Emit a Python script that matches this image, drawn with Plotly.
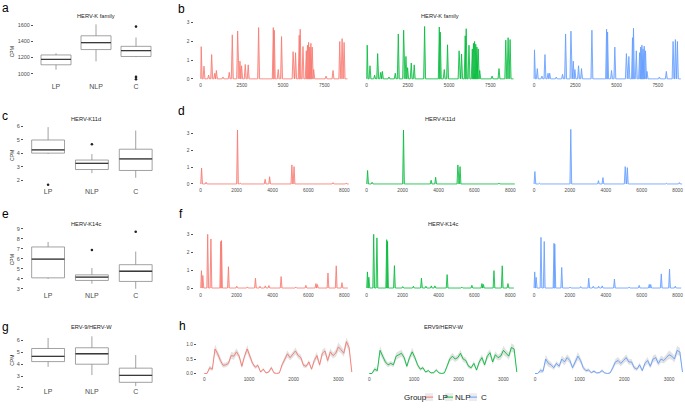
import plotly.graph_objects as go

W, H = 685, 408

# ---------------- data ----------------
groups = ["LP", "NLP", "C"]
colours = ["#F8766D", "#00BA38", "#619CFF"]
fills = ["rgba(248,118,109,0.35)", "rgba(0,186,56,0.35)", "rgba(97,156,255,0.35)"]

# box plot summaries (CPM), order LP, NLP, C
a_q1 = [1110, 1299, 1213]
a_med = [1176, 1384, 1286]
a_q3 = [1232, 1470, 1339]
a_lo = [1049, 1152, 1205]
a_hi = [1253, 1612, 1449]
a_out_x = [2, 2, 2]
a_out_y = [1584, 960, 930]

c_q1 = [4.01, 2.80, 2.73]
c_med = [4.25, 3.26, 3.58]
c_q3 = [4.98, 3.50, 4.30]
c_lo = [3.95, 2.53, 2.19]
c_hi = [5.93, 3.94, 5.68]
c_out_x = [0, 1]
c_out_y = [1.68, 4.67]

e_q1 = [4.09, 3.83, 3.73]
e_med = [5.97, 4.16, 4.75]
e_q3 = [7.19, 4.39, 5.41]
e_lo = [3.99, 3.50, 3.00]
e_hi = [7.69, 5.08, 6.73]
e_out_x = [1, 2]
e_out_y = [6.89, 8.71]

g_q1 = [4.21, 3.99, 2.47]
g_med = [4.65, 4.87, 3.05]
g_q3 = [5.31, 5.37, 3.66]
g_lo = [3.77, 3.08, 2.15]
g_hi = [6.19, 6.33, 4.76]
g_out_x = []
g_out_y = []

# coverage peaks: HERV-K family
b_pos = [30, 200, 480, 665, 850, 950, 1350, 1730, 1915, 2240, 2380, 2480, 2700, 2880,
         3510, 4400, 4460, 4700, 4900, 5600, 5750, 5970, 6030, 6200, 6400, 6470, 6540,
         6610, 6680, 6760, 6850, 7600, 8020, 8430, 8570, 8690]
b_lp = [1.72, 0.68, 0.2, 1.3, 0.3, 0.45, 0.1, 0.35, 2.35, 2.56, 0.95, 0.7, 0.77, 0.75,
        2.74, 2.74, 2.6, 0.5, 2.26, 1.45, 1.4, 2.33, 2.65, 1.73, 1.5, 1.8, 1.95,
        1.7, 1.9, 1.7, 0.5, 0.15, 0.45, 2.0, 2.15, 1.95]
b_nlp = [1.8, 0.7, 0.2, 1.35, 0.35, 0.4, 0.1, 0.3, 2.4, 2.6, 1.2, 0.6, 0.85, 0.75,
         2.8, 2.77, 2.5, 0.5, 1.82, 1.5, 1.33, 2.3, 2.68, 1.8, 1.6, 1.9, 2.0,
         1.85, 1.7, 1.6, 0.45, 0.15, 0.55, 2.07, 2.2, 2.1]
b_c = [1.55, 0.55, 0.15, 1.3, 0.3, 0.3, 0.1, 0.25, 2.4, 2.55, 0.95, 0.5, 0.7, 0.55,
       2.6, 2.65, 2.5, 0.45, 1.7, 1.35, 1.2, 2.2, 2.7, 1.5, 1.4, 1.7, 1.8,
       1.6, 1.75, 1.5, 0.4, 0.1, 0.4, 2.0, 2.1, 2.0]
b_end = 8900

# HERV-K11d
d_pos = [50, 300, 2050, 2200, 3590, 3840, 5080, 5200, 7370, 8100]
d_lp = [0.94, 0.1, 3.2, 0.05, 0.28, 0.43, 1.13, 1.03, 0.08, 0.05]
d_nlp = [0.8, 0.1, 3.2, 0.03, 0.22, 0.4, 1.13, 1.03, 0.05, 0.03]
d_c = [0.74, 0.05, 3.24, 0.03, 0.2, 0.38, 1.03, 0.97, 0.04, 0.08]
d_end = 8250

# HERV-K14c
f_pos = [40, 120, 390, 570, 1115, 1160, 1545, 2010, 2600, 3050, 3300, 3600, 3800,
         4480, 5300, 5860, 6420, 6500, 7090, 7550, 7870]
f_lp = [0.97, 0.7, 3.0, 2.74, 2.6, 2.65, 1.19, 0.1, 0.06, 0.55, 0.1, 0.12, 0.14,
        0.64, 0.05, 0.15, 0.25, 0.2, 0.84, 1.24, 0.3]
f_nlp = [0.9, 0.6, 3.0, 2.8, 2.7, 2.6, 1.25, 0.08, 0.1, 0.55, 0.1, 0.12, 0.12,
         0.75, 0.05, 0.15, 0.25, 0.2, 0.97, 1.24, 0.25]
f_c = [0.9, 0.6, 2.83, 2.6, 2.5, 2.45, 1.15, 0.05, 0.08, 0.55, 0.1, 0.1, 0.12,
       0.5, 0.05, 0.15, 0.2, 0.2, 0.79, 1.06, 0.1]
f_end = 8200

# ERV9/HERV-W: smoothed coverage every 60 nt
h_pos = list(range(0, 3301, 60))
h_lp = [0, 0, 0.2, 0.15, 0.85, 0.68, 0.45, 0.28, 0.3, 0.35,
        0.62, 0.6, 0.75, 0.6, 0.25, 0.6, 0.85, 0.6, 0.35, 0.22,
        0.28, 0.05, 0.15, 0.02, 0.05, 0.2, 0.02, 0, 0.02, 0.3,
        0.5, 0.68, 0.55, 0.65, 0.78, 0.62, 0.55, 0.28, 0.25, 0.4,
        0.15, 0.45, 0.62, 0.3, 0.7, 0.78, 0.45, 0.75, 0.62, 0.7,
        0.92, 0.82, 0.7, 1.1, 0.9, 0.05]
h_nlp = [0, 0, 0.15, 0.1, 0.8, 0.6, 0.4, 0.3, 0.35, 0.3,
         0.6, 0.65, 0.7, 0.55, 0.25, 0.55, 0.75, 0.55, 0.3, 0.15,
         0.2, 0.05, 0.1, 0.02, 0.03, 0.12, 0.02, 0, 0.02, 0.25,
         0.5, 0.6, 0.5, 0.55, 0.7, 0.5, 0.45, 0.25, 0.2, 0.35,
         0.12, 0.4, 0.55, 0.3, 0.6, 0.72, 0.4, 0.65, 0.55, 0.6,
         0.8, 0.7, 0.6, 0.9, 0.85, 0.05]
h_c = [0, 0, 0.1, 0.08, 0.5, 0.35, 0.3, 0.2, 0.35, 0.25,
       0.5, 0.4, 0.55, 0.45, 0.2, 0.4, 0.6, 0.45, 0.2, 0.1,
       0.12, 0.03, 0.08, 0.02, 0.03, 0.1, 0.02, 0, 0.02, 0.2,
       0.4, 0.45, 0.35, 0.45, 0.55, 0.4, 0.4, 0.2, 0.15, 0.3,
       0.1, 0.35, 0.45, 0.25, 0.5, 0.55, 0.35, 0.5, 0.45, 0.55,
       0.65, 0.6, 0.5, 0.8, 0.75, 0.05]
h_spread = [0.02, 0.02, 0.08, 0.06, 0.15, 0.12, 0.1, 0.08, 0.08, 0.08,
            0.12, 0.12, 0.12, 0.1, 0.08, 0.1, 0.14, 0.1, 0.08, 0.06,
            0.06, 0.03, 0.05, 0.02, 0.03, 0.06, 0.02, 0.01, 0.02, 0.08,
            0.1, 0.12, 0.1, 0.1, 0.12, 0.1, 0.1, 0.08, 0.06, 0.08,
            0.05, 0.1, 0.12, 0.08, 0.12, 0.12, 0.1, 0.12, 0.1, 0.12,
            0.15, 0.12, 0.12, 0.15, 0.14, 0.03]

# ---------------- layout helpers ----------------
FONT = "Liberation Sans, Arial, sans-serif"
TICK = "#4d4d4d"

fig = go.Figure()
n_axes = [0]


def new_axes(xpx, ypx, xrange, yrange, xticks=None, yticks=None, show_y=True,
             tick_size=5, xtick_size=None, xstandoff=0):
    """ Create an x/y axis pair placed by pixel box (left, right) / (top, bottom) """
    n_axes[0] += 1
    n = "" if n_axes[0] == 1 else str(n_axes[0])
    xa = dict(domain=[xpx[0] / W, xpx[1] / W], range=xrange, anchor="y" + n,
              showgrid=False, zeroline=False, showline=False, ticklabelstandoff=xstandoff,
              tickfont=dict(size=xtick_size or tick_size, color=TICK, family=FONT))
    if xticks is not None:
        xa.update(tickmode="array", tickvals=xticks[0], ticktext=xticks[1])
    ya = dict(domain=[1 - ypx[1] / H, 1 - ypx[0] / H], range=yrange, anchor="x" + n,
              showgrid=False, zeroline=False, showline=False,
              tickfont=dict(size=tick_size, color=TICK, family=FONT))
    if yticks is not None and show_y:
        ya.update(tickmode="array", tickvals=yticks[0], ticktext=yticks[1],
                  ticks="outside", ticklen=2, tickwidth=0.6, tickcolor="#555")
    else:
        ya.update(showticklabels=False)
    fig.update_layout(**{"xaxis" + n: xa, "yaxis" + n: ya})
    return "x" + n, "y" + n


def text_at(txt, x, y, size, color="#1a1a1a", xanchor="center", angle=0):
    fig.add_annotation(text=txt, x=x / W, y=1 - y / H, xref="paper", yref="paper",
                       xanchor=xanchor, yanchor="middle", textangle=angle,
                       showarrow=False, font=dict(size=size, color=color, family=FONT))


def box_panel(xpx, ypx, yrange, yticks, q1, med, q3, lo, hi, out_x, out_y):
    xa, ya = new_axes(xpx, ypx, [-0.55, 2.6], yrange,
                      xticks=([0, 1, 2], groups), yticks=yticks, tick_size=5.5,
                      xtick_size=7, xstandoff=-2)
    fig.add_trace(go.Box(x=[0, 1, 2], q1=q1, median=med, q3=q3, lowerfence=lo,
                         upperfence=hi, width=0.75, whiskerwidth=0, boxpoints=False,
                         orientation="v", fillcolor="white",
                         line=dict(color="#8a8a8a", width=0.8),
                         xaxis=xa, yaxis=ya, showlegend=False, hoverinfo="skip"))
    mx, my = [], []
    for i, m in enumerate(med):
        mx += [i - 0.375, i + 0.375, None]
        my += [m, m, None]
    fig.add_trace(go.Scatter(x=mx, y=my, mode="lines", line=dict(color="#3a3a3a", width=1.3),
                             xaxis=xa, yaxis=ya, showlegend=False, hoverinfo="skip"))
    fig.add_trace(go.Scatter(x=out_x, y=out_y, mode="markers",
                             marker=dict(color="#222", size=2.6),
                             xaxis=xa, yaxis=ya, showlegend=False, hoverinfo="skip"))
    text_at("CPM", 12, (ypx[0] + ypx[1]) / 2, 5, color="#222", angle=-90)


def spike_trace(pos, heights, end, half):
    """ Turn peak positions/heights into a coverage polyline on a zero baseline """
    xs, ys = [0], [0]
    for p, h in zip(pos, heights):
        xs += [max(0, p - half), p, p + half]
        ys += [0, h, 0]
    xs.append(end)
    ys.append(0)
    return xs, ys


def coverage_row(lefts, width, ypx, xrange, yrange, xticks, yticks, series,
                 end=None, half=None, pos=None, spread=None):
    for k, (vals, col) in enumerate(zip(series, colours)):
        xa, ya = new_axes((lefts[k], lefts[k] + width), ypx, xrange, yrange,
                          xticks=xticks, yticks=yticks, show_y=(k == 0), tick_size=4.8)
        if spread is None:
            xs, ys = spike_trace(pos, vals, end, half)
            fig.add_trace(go.Scatter(x=xs, y=ys, mode="lines", line=dict(color=col, width=0.8),
                                     fill="tozeroy", fillcolor=fills[k],
                                     xaxis=xa, yaxis=ya, showlegend=False, hoverinfo="skip"))
        else:
            up = [v + s for v, s in zip(vals, spread)]
            dn = [max(0, v - s) for v, s in zip(vals, spread)]
            fig.add_trace(go.Scatter(x=pos, y=up, mode="lines", line=dict(width=0),
                                     xaxis=xa, yaxis=ya, showlegend=False, hoverinfo="skip"))
            fig.add_trace(go.Scatter(x=pos, y=dn, mode="lines", line=dict(width=0),
                                     fill="tonexty", fillcolor="rgba(180,180,180,0.38)",
                                     xaxis=xa, yaxis=ya, showlegend=False, hoverinfo="skip"))
            fig.add_trace(go.Scatter(x=pos, y=vals, mode="lines",
                                     line=dict(color=col, width=0.9),
                                     xaxis=xa, yaxis=ya, showlegend=False, hoverinfo="skip"))


# ---------------- panels ----------------
box_panel((34, 160), (18.8, 81.2), [884, 1647],
          ([1000, 1200, 1400, 1600], ["1000", "1200", "1400", "1600"]),
          a_q1, a_med, a_q3, a_lo, a_hi, a_out_x, a_out_y)
box_panel((24, 162), (123.1, 187.3), [1.47, 6.14],
          ([2, 3, 4, 5, 6], ["2", "3", "4", "5", "6"]),
          c_q1, c_med, c_q3, c_lo, c_hi, c_out_x, c_out_y)
box_panel((24, 162), (229.3, 292.9), [2.71, 9.0],
          ([3, 4, 5, 6, 7, 8, 9], ["3", "4", "5", "6", "7", "8", "9"]),
          e_q1, e_med, e_q3, e_lo, e_hi, e_out_x, e_out_y)
box_panel((24, 162), (335.4, 390.8), [1.99, 6.57],
          ([2, 3, 4, 5, 6], ["2", "3", "4", "5", "6"]),
          g_q1, g_med, g_q3, g_lo, g_hi, g_out_x, g_out_y)

k_ticks = ([0, 2500, 5000, 7500], ["0", "2500", "5000", "7500"])
k8_ticks = ([0, 2000, 4000, 6000, 8000], ["0", "2000", "4000", "6000", "8000"])
int_y = ([0, 1, 2, 3], ["0", "1", "2", "3"])

coverage_row((193.5, 359.5, 526.8), 158.2, (19.05, 79.85), [-436, 9152], [-0.15, 3.05],
             k_ticks, int_y, (b_lp, b_nlp, b_c), end=b_end, half=60, pos=b_pos)
coverage_row((193.5, 359.5, 526.8), 158.2, (125.5, 186.4), [-401, 8412], [-0.16, 3.4],
             k8_ticks, int_y, (d_lp, d_nlp, d_c), end=d_end, half=50, pos=d_pos)
coverage_row((193.5, 359.5, 526.8), 158.2, (231.1, 292.0), [-401, 8412], [-0.15, 3.2],
             k8_ticks, int_y, (f_lp, f_nlp, f_c), end=f_end, half=50, pos=f_pos)
coverage_row((196.9, 361.9, 527.6), 157.4, (337.9, 377.8), [-165.5, 3356], [-0.06, 1.3],
             ([0, 1000, 2000, 3000], ["0", "1000", "2000", "3000"]),
             ([0, 0.5, 1.0], ["0.0", "0.5", "1.0"]),
             (h_lp, h_nlp, h_c), pos=h_pos, spread=h_spread)

# ---------------- titles, letters, legend ----------------
titles = [("HERV-K family", 96, 12.7), ("HERV-K family", 440, 12.7),
          ("HERV-K11d", 86, 118), ("HERV-K11d", 440, 118),
          ("HERV-K14c", 86, 224), ("HERV-K14c", 443, 224),
          ("ERV-9/HERV-W", 91, 329), ("ERV9/HERV-W", 444, 329)]
for txt, x, y in titles:
    text_at(txt, x, y, 5.7)

letters = [("a", 5, 5), ("b", 181, 6), ("c", 5, 115), ("d", 181, 110),
           ("e", 5, 214), ("f", 181, 214), ("g", 5, 329), ("h", 182, 328)]
for txt, x, y in letters:
    text_at(txt, x, y, 12, color="black")

text_at("Group", 402, 400, 8, xanchor="left")
legend_keys = [(425, 436), (445, 453), (469, 479)]
for (kx, tx), g, col in zip(legend_keys, groups, colours):
    fig.add_shape(type="rect", x0=kx / W, x1=(kx + 8) / W, y0=1 - 404 / H, y1=1 - 396 / H,
                  xref="paper", yref="paper", fillcolor="#ececec", line=dict(width=0))
    fig.add_shape(type="line", x0=kx / W, x1=(kx + 8) / W, y0=1 - 400 / H, y1=1 - 400 / H,
                  xref="paper", yref="paper", line=dict(color=col, width=1))
    text_at(g, tx, 400, 8, xanchor="left")

fig.update_layout(width=W, height=H, margin=dict(l=0, r=0, t=0, b=0),
                  paper_bgcolor="white", plot_bgcolor="white",
                  font=dict(family=FONT), showlegend=False)

# the page's default body margin would shift the figure; remove it
fig.write_html("out.html", config={"displayModeBar": False},
               post_script="document.body.style.margin='0';")
